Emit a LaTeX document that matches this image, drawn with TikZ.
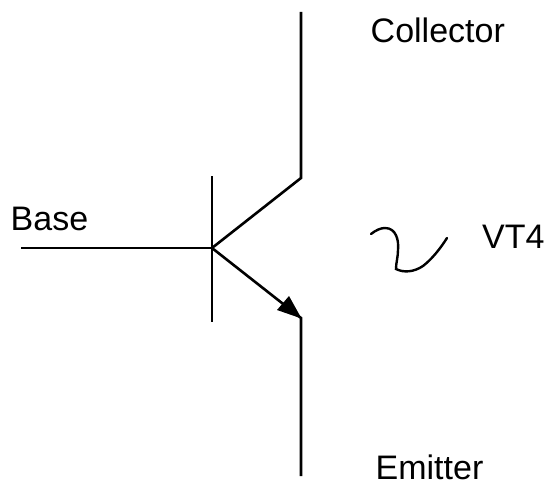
\documentclass[tikz,border=0pt]{standalone}
\usepackage{fontspec}
\setmainfont{Liberation Sans}
\begin{document}
\begin{tikzpicture}[x=1pt,y=-1pt,
  wire/.style={line width=2.6pt,line cap=butt,line join=miter,black},
  lbl/.style={font=\fontsize{34}{36}\selectfont,inner sep=0pt,anchor=base west,black}]
\useasboundingbox[fill=white] (0,0) rectangle (547,487);
\coordinate (ctop) at (301,12);
\coordinate (cknee) at (301,178);
\coordinate (junction) at (212,248);
\coordinate (bartop) at (212,176);
\coordinate (barbot) at (212,322);
\coordinate (bend) at (21,248);
\coordinate (eknee) at (301,318);
\coordinate (ebot) at (301,476);
\draw[wire] (ctop) -- (cknee) -- (junction);
\draw[wire] (bend) -- (junction);
\draw[wire,line width=2pt] (bartop) -- (barbot);
\draw[wire] (junction) -- (eknee) -- (ebot);
\fill[black] (301.5,318.5) -- (277,310) -- (289,296) -- cycle;
\draw[line width=2.4pt,line cap=round,black] (371,234) .. controls (376,230) and (381,228) .. (385,228)
  .. controls (396,228) and (399,240) .. (398,250) .. controls (398,257) and (396,263) .. (396,269)
  .. controls (404,273) and (414,272) .. (423,266)
  .. controls (432,259) and (440,249) .. (447,238);
\node[lbl] (collector) at (370.5,43) {Collector};
\node[lbl] (base) at (10.5,230) {Base};
\node[lbl] (vt) at (482,248) {VT4};
\node[lbl] (emitter) at (375.5,479) {Emitter};
\end{tikzpicture}
\end{document}
